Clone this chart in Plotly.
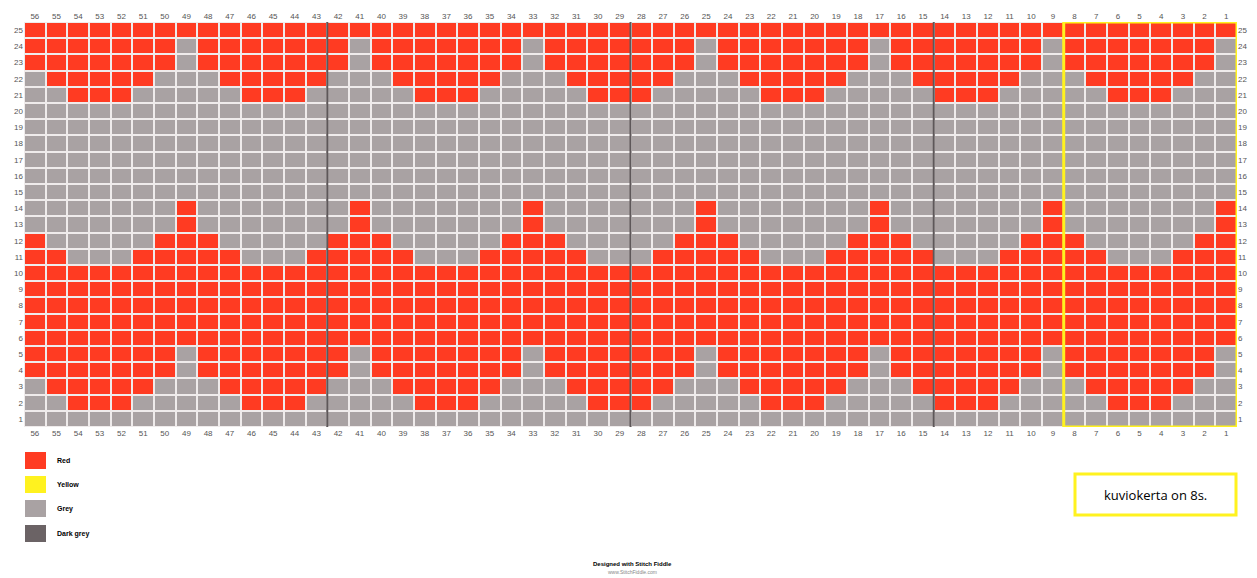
import plotly.graph_objects as go

# ---- data -------------------------------------------------------------
COLUMNS = list(range(56, 0, -1))   # stitch numbers, left -> right
ROWS = list(range(25, 0, -1))      # row numbers, top -> bottom

# Chart rows (row 25 first), columns 56 -> 1, R = red, G = grey
CHART = [
    "RRRRRRRR RRRRRRRR RRRRRRRR RRRRRRRR RRRRRRRR RRRRRRRR RRRRRRRR",  # 25
    "RRRRRRRG RRRRRRRG RRRRRRRG RRRRRRRG RRRRRRRG RRRRRRRG RRRRRRRG",  # 24
    "RRRRRRRG RRRRRRRG RRRRRRRG RRRRRRRG RRRRRRRG RRRRRRRG RRRRRRRG",  # 23
    "GRRRRRGG GRRRRRGG GRRRRRGG GRRRRRGG GRRRRRGG GRRRRRGG GRRRRRGG",  # 22
    "GGRRRGGG GGRRRGGG GGRRRGGG GGRRRGGG GGRRRGGG GGRRRGGG GGRRRGGG",  # 21
    "GGGGGGGG GGGGGGGG GGGGGGGG GGGGGGGG GGGGGGGG GGGGGGGG GGGGGGGG",  # 20
    "GGGGGGGG GGGGGGGG GGGGGGGG GGGGGGGG GGGGGGGG GGGGGGGG GGGGGGGG",  # 19
    "GGGGGGGG GGGGGGGG GGGGGGGG GGGGGGGG GGGGGGGG GGGGGGGG GGGGGGGG",  # 18
    "GGGGGGGG GGGGGGGG GGGGGGGG GGGGGGGG GGGGGGGG GGGGGGGG GGGGGGGG",  # 17
    "GGGGGGGG GGGGGGGG GGGGGGGG GGGGGGGG GGGGGGGG GGGGGGGG GGGGGGGG",  # 16
    "GGGGGGGG GGGGGGGG GGGGGGGG GGGGGGGG GGGGGGGG GGGGGGGG GGGGGGGG",  # 15
    "GGGGGGGR GGGGGGGR GGGGGGGR GGGGGGGR GGGGGGGR GGGGGGGR GGGGGGGR",  # 14
    "GGGGGGGR GGGGGGGR GGGGGGGR GGGGGGGR GGGGGGGR GGGGGGGR GGGGGGGR",  # 13
    "RGGGGGRR RGGGGGRR RGGGGGRR RGGGGGRR RGGGGGRR RGGGGGRR RGGGGGRR",  # 12
    "RRGGGRRR RRGGGRRR RRGGGRRR RRGGGRRR RRGGGRRR RRGGGRRR RRGGGRRR",  # 11
    "RRRRRRRR RRRRRRRR RRRRRRRR RRRRRRRR RRRRRRRR RRRRRRRR RRRRRRRR",  # 10
    "RRRRRRRR RRRRRRRR RRRRRRRR RRRRRRRR RRRRRRRR RRRRRRRR RRRRRRRR",  # 9
    "RRRRRRRR RRRRRRRR RRRRRRRR RRRRRRRR RRRRRRRR RRRRRRRR RRRRRRRR",  # 8
    "RRRRRRRR RRRRRRRR RRRRRRRR RRRRRRRR RRRRRRRR RRRRRRRR RRRRRRRR",  # 7
    "RRRRRRRR RRRRRRRR RRRRRRRR RRRRRRRR RRRRRRRR RRRRRRRR RRRRRRRR",  # 6
    "RRRRRRRG RRRRRRRG RRRRRRRG RRRRRRRG RRRRRRRG RRRRRRRG RRRRRRRG",  # 5
    "RRRRRRRG RRRRRRRG RRRRRRRG RRRRRRRG RRRRRRRG RRRRRRRG RRRRRRRG",  # 4
    "GRRRRRGG GRRRRRGG GRRRRRGG GRRRRRGG GRRRRRGG GRRRRRGG GRRRRRGG",  # 3
    "GGRRRGGG GGRRRGGG GGRRRGGG GGRRRGGG GGRRRGGG GGRRRGGG GGRRRGGG",  # 2
    "GGGGGGGG GGGGGGGG GGGGGGGG GGGGGGGG GGGGGGGG GGGGGGGG GGGGGGGG",  # 1
]

SECTION_BOUNDARIES = [42.5, 28.5, 14.5]   # dark grey divider lines
REPEAT_COLS = (8, 1)                      # highlighted pattern repeat
LEGEND_NAMES = ["Red", "Yellow", "Grey", "Dark grey"]
NOTE_TEXT = "kuviokerta on 8s."

# ---- styling ---------------------------------------------------------
RED = "#FF3B22"
YELLOW = "#FFF21F"
GREY = "#A9A2A3"
DARK = "#5E5759"
LEGEND_COLORS = [RED, YELLOW, GREY, "#6B6365"]
LABEL_COLOR = "#555555"

z = [[1 if ch == "R" else 0 for ch in row.replace(" ", "")] for row in CHART]

fig = go.Figure()
fig.add_trace(go.Heatmap(
    x=COLUMNS, y=ROWS, z=z,
    colorscale=[[0, GREY], [0.5, GREY], [0.5, RED], [1, RED]],
    zmin=0, zmax=1, showscale=False, xgap=2, ygap=2, hoverinfo="skip",
))
# invisible trace to drive the mirrored (top / right) axes
fig.add_trace(go.Scatter(x=[COLUMNS[0], COLUMNS[-1]], y=[ROWS[0], ROWS[-1]],
                         xaxis="x2", yaxis="y2", mode="markers",
                         marker=dict(opacity=0), hoverinfo="skip",
                         showlegend=False))

# page body has an 8px margin: figure is offset by (8, 8)
FIG_W, FIG_H = 1249, 570
ML, MR, MT, MB = 16, 20, 14, 151

tickfont = dict(family="Liberation Sans, Arial", size=8, color=LABEL_COLOR)
xr = [56.5, 0.5]
yr = [0.5, 25.5]
fig.update_layout(
    width=FIG_W, height=FIG_H,
    margin=dict(l=ML, r=MR, t=MT, b=MB, autoexpand=False),
    paper_bgcolor="white", plot_bgcolor="#EFEBEB",
    showlegend=False,
    xaxis=dict(range=xr, tickmode="array", tickvals=COLUMNS,
               ticktext=[str(c) for c in COLUMNS], tickfont=tickfont,
               showgrid=False, zeroline=False, ticks="", ticklen=0),
    xaxis2=dict(range=xr, overlaying="x", side="top", anchor="y",
                tickmode="array", tickvals=COLUMNS,
                ticktext=[str(c) for c in COLUMNS], tickfont=tickfont,
                showgrid=False, zeroline=False, ticks=""),
    yaxis=dict(range=yr, tickmode="array", tickvals=ROWS,
               ticktext=[str(r) for r in ROWS], tickfont=tickfont,
               showgrid=False, zeroline=False, ticks=""),
    yaxis2=dict(range=yr, overlaying="y", side="right", anchor="x",
                tickmode="array", tickvals=ROWS,
                ticktext=[str(r) for r in ROWS], tickfont=tickfont,
                showgrid=False, zeroline=False, ticks=""),
)

shapes = []
for bx in SECTION_BOUNDARIES:
    shapes.append(dict(type="line", xref="x", yref="y", x0=bx, x1=bx,
                       y0=yr[0], y1=yr[1], line=dict(color=DARK, width=2)))
shapes.append(dict(type="rect", xref="x", yref="y",
                   x0=REPEAT_COLS[0] + 0.5, x1=REPEAT_COLS[1] - 0.5,
                   y0=yr[0], y1=yr[1], line=dict(color=YELLOW, width=3)))

# page-pixel -> paper fraction helpers
PW = FIG_W - ML - MR
PH = FIG_H - MT - MB
X0_PAGE = 8 + ML
YB_PAGE = 8 + FIG_H - MB
def px(xp):
    return (xp - X0_PAGE) / PW
def py(yp):
    return (YB_PAGE - yp) / PH

annotations = []
sw_top = [452, 476, 500, 525]
for name, col, top in zip(LEGEND_NAMES, LEGEND_COLORS, sw_top):
    shapes.append(dict(type="rect", xref="paper", yref="paper",
                       x0=px(25), x1=px(46), y0=py(top + 17), y1=py(top),
                       fillcolor=col, line=dict(width=0)))
    annotations.append(dict(xref="paper", yref="paper", x=px(55),
                            y=py(top + 8.5), text="<b>" + name + "</b>",
                            showarrow=False, xanchor="left", yanchor="middle",
                            font=dict(family="Liberation Sans, Arial", size=7,
                                      color="black")))

# note box
shapes.append(dict(type="rect", xref="paper", yref="paper",
                   x0=px(1075), x1=px(1236), y0=py(515), y1=py(474),
                   fillcolor="white", line=dict(color=YELLOW, width=3)))
annotations.append(dict(xref="paper", yref="paper", x=px(1155), y=py(495),
                        text=NOTE_TEXT, showarrow=False,
                        xanchor="center", yanchor="middle",
                        font=dict(family="Open Sans, Lato", size=13,
                                  color="black")))

# footer
annotations.append(dict(xref="paper", yref="paper", x=px(632), y=py(564),
                        text="<b>Designed with Stitch Fiddle</b>",
                        showarrow=False, xanchor="center", yanchor="middle",
                        font=dict(family="Liberation Sans, Arial", size=6,
                                  color="black")))
annotations.append(dict(xref="paper", yref="paper", x=px(632), y=py(572),
                        text="www.StitchFiddle.com", showarrow=False,
                        xanchor="center", yanchor="middle",
                        font=dict(family="Liberation Sans, Arial", size=5,
                                  color="#888888")))

fig.update_layout(shapes=shapes, annotations=annotations)
fig.write_html("out.html")
